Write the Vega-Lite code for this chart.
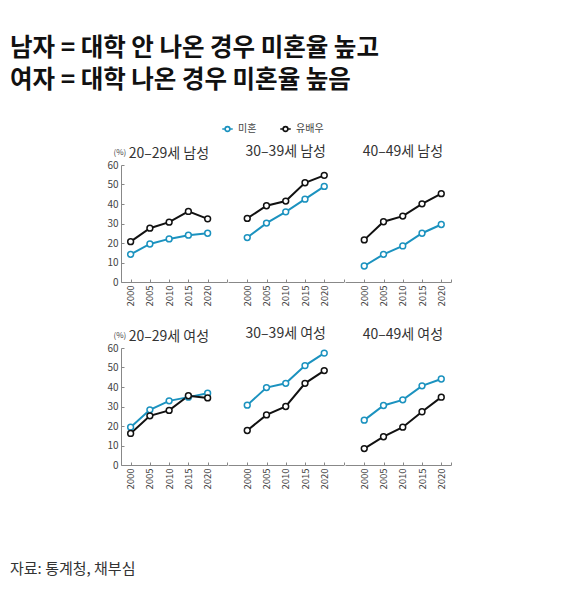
{
  "$schema": "https://vega.github.io/schema/vega-lite/v6.json",
  "background": "white",
  "padding": {"left": 10, "top": 35, "right": 10, "bottom": 10},
  "title": {
    "text": ["남자 = 대학 안 나온 경우 미혼율 높고", "여자 = 대학 나온 경우 미혼율 높음"],
    "anchor": "start",
    "frame": "group",
    "font": "Noto Sans CJK KR",
    "fontSize": 24.5,
    "fontWeight": "bold",
    "lineHeight": 32,
    "color": "#111111",
    "dx": -111,
    "offset": 29
  },
  "datasets": {
    "rates": [
      {"sex": "남성", "age": "20–29세", "year": 2000, "status": "미혼", "value": 14.2},
      {"sex": "남성", "age": "20–29세", "year": 2005, "status": "미혼", "value": 19.5},
      {"sex": "남성", "age": "20–29세", "year": 2010, "status": "미혼", "value": 22.1},
      {"sex": "남성", "age": "20–29세", "year": 2015, "status": "미혼", "value": 24.0},
      {"sex": "남성", "age": "20–29세", "year": 2020, "status": "미혼", "value": 25.0},
      {"sex": "남성", "age": "20–29세", "year": 2000, "status": "유배우", "value": 20.7},
      {"sex": "남성", "age": "20–29세", "year": 2005, "status": "유배우", "value": 27.6},
      {"sex": "남성", "age": "20–29세", "year": 2010, "status": "유배우", "value": 30.7},
      {"sex": "남성", "age": "20–29세", "year": 2015, "status": "유배우", "value": 36.2},
      {"sex": "남성", "age": "20–29세", "year": 2020, "status": "유배우", "value": 32.4},
      {"sex": "남성", "age": "30–39세", "year": 2000, "status": "미혼", "value": 22.8},
      {"sex": "남성", "age": "30–39세", "year": 2005, "status": "미혼", "value": 30.2},
      {"sex": "남성", "age": "30–39세", "year": 2010, "status": "미혼", "value": 36.0},
      {"sex": "남성", "age": "30–39세", "year": 2015, "status": "미혼", "value": 42.5},
      {"sex": "남성", "age": "30–39세", "year": 2020, "status": "미혼", "value": 49.0},
      {"sex": "남성", "age": "30–39세", "year": 2000, "status": "유배우", "value": 32.6},
      {"sex": "남성", "age": "30–39세", "year": 2005, "status": "유배우", "value": 39.1},
      {"sex": "남성", "age": "30–39세", "year": 2010, "status": "유배우", "value": 41.5},
      {"sex": "남성", "age": "30–39세", "year": 2015, "status": "유배우", "value": 50.9},
      {"sex": "남성", "age": "30–39세", "year": 2020, "status": "유배우", "value": 54.7},
      {"sex": "남성", "age": "40–49세", "year": 2000, "status": "미혼", "value": 8.2},
      {"sex": "남성", "age": "40–49세", "year": 2005, "status": "미혼", "value": 14.2},
      {"sex": "남성", "age": "40–49세", "year": 2010, "status": "미혼", "value": 18.5},
      {"sex": "남성", "age": "40–49세", "year": 2015, "status": "미혼", "value": 25.0},
      {"sex": "남성", "age": "40–49세", "year": 2020, "status": "미혼", "value": 29.5},
      {"sex": "남성", "age": "40–49세", "year": 2000, "status": "유배우", "value": 21.6},
      {"sex": "남성", "age": "40–49세", "year": 2005, "status": "유배우", "value": 30.9},
      {"sex": "남성", "age": "40–49세", "year": 2010, "status": "유배우", "value": 33.8},
      {"sex": "남성", "age": "40–49세", "year": 2015, "status": "유배우", "value": 40.1},
      {"sex": "남성", "age": "40–49세", "year": 2020, "status": "유배우", "value": 45.3},
      {"sex": "여성", "age": "20–29세", "year": 2000, "status": "미혼", "value": 19.4},
      {"sex": "여성", "age": "20–29세", "year": 2005, "status": "미혼", "value": 28.3},
      {"sex": "여성", "age": "20–29세", "year": 2010, "status": "미혼", "value": 32.9},
      {"sex": "여성", "age": "20–29세", "year": 2015, "status": "미혼", "value": 34.8},
      {"sex": "여성", "age": "20–29세", "year": 2020, "status": "미혼", "value": 36.8},
      {"sex": "여성", "age": "20–29세", "year": 2000, "status": "유배우", "value": 16.2},
      {"sex": "여성", "age": "20–29세", "year": 2005, "status": "유배우", "value": 25.2},
      {"sex": "여성", "age": "20–29세", "year": 2010, "status": "유배우", "value": 28.0},
      {"sex": "여성", "age": "20–29세", "year": 2015, "status": "유배우", "value": 35.5},
      {"sex": "여성", "age": "20–29세", "year": 2020, "status": "유배우", "value": 34.4},
      {"sex": "여성", "age": "30–39세", "year": 2000, "status": "미혼", "value": 30.7},
      {"sex": "여성", "age": "30–39세", "year": 2005, "status": "미혼", "value": 39.7},
      {"sex": "여성", "age": "30–39세", "year": 2010, "status": "미혼", "value": 41.9},
      {"sex": "여성", "age": "30–39세", "year": 2015, "status": "미혼", "value": 51.0},
      {"sex": "여성", "age": "30–39세", "year": 2020, "status": "미혼", "value": 57.4},
      {"sex": "여성", "age": "30–39세", "year": 2000, "status": "유배우", "value": 17.7},
      {"sex": "여성", "age": "30–39세", "year": 2005, "status": "유배우", "value": 25.7},
      {"sex": "여성", "age": "30–39세", "year": 2010, "status": "유배우", "value": 30.0},
      {"sex": "여성", "age": "30–39세", "year": 2015, "status": "유배우", "value": 41.9},
      {"sex": "여성", "age": "30–39세", "year": 2020, "status": "유배우", "value": 48.4},
      {"sex": "여성", "age": "40–49세", "year": 2000, "status": "미혼", "value": 23.0},
      {"sex": "여성", "age": "40–49세", "year": 2005, "status": "미혼", "value": 30.5},
      {"sex": "여성", "age": "40–49세", "year": 2010, "status": "미혼", "value": 33.4},
      {"sex": "여성", "age": "40–49세", "year": 2015, "status": "미혼", "value": 40.6},
      {"sex": "여성", "age": "40–49세", "year": 2020, "status": "미혼", "value": 44.1},
      {"sex": "여성", "age": "40–49세", "year": 2000, "status": "유배우", "value": 8.4},
      {"sex": "여성", "age": "40–49세", "year": 2005, "status": "유배우", "value": 14.5},
      {"sex": "여성", "age": "40–49세", "year": 2010, "status": "유배우", "value": 19.4},
      {"sex": "여성", "age": "40–49세", "year": 2015, "status": "유배우", "value": 27.3},
      {"sex": "여성", "age": "40–49세", "year": 2020, "status": "유배우", "value": 34.8}
    ]
  },
  "data": {"name": "rates"},
  "spacing": 20,
  "vconcat": [
    {
      "spacing": 0,
      "hconcat": [
        {
          "width": 105.9,
          "height": 117,
          "title": {"text": "20–29세 남성", "dx": -5, "dy": 19},
          "transform": [{"filter": "datum.sex === '남성' && datum.age === '20–29세'"}],
          "mark": {"type": "line", "strokeWidth": 2, "point": {"filled": false, "fill": "white", "size": 34, "strokeWidth": 1.5}},
          "encoding": {
            "x": {"field": "year", "type": "quantitative", "scale": {"domain": [1997.5, 2025], "nice": false, "zero": false},
              "axis": {"values": [2000, 2005, 2010, 2015, 2020, 2025], "labelExpr": "datum.value <= 2020 ? '' + datum.value : ''", "title": null}},
            "y": {"field": "value", "type": "quantitative", "scale": {"domain": [0, 60], "nice": false},
              "axis": {"values": [0, 10, 20, 30, 40, 50, 60], "title": "(%)", "titleAngle": 0, "titleAlign": "left", "titleBaseline": "bottom", "titleX": -8, "titleY": -9, "titleFontSize": 8, "titleFontWeight": "normal", "titleColor": "#444444"}},
            "color": {"field": "status", "type": "nominal", "scale": {"domain": ["미혼", "유배우"], "range": ["#1b92bf", "#111111"]}}
          }
        },
        {
          "width": 115.5,
          "height": 117,
          "title": {"text": "30–39세 남성"},
          "transform": [{"filter": "datum.sex === '남성' && datum.age === '30–39세'"}],
          "mark": {"type": "line", "strokeWidth": 2, "point": {"filled": false, "fill": "white", "size": 34, "strokeWidth": 1.5}},
          "encoding": {
            "x": {"field": "year", "type": "quantitative", "scale": {"domain": [1995, 2025], "nice": false, "zero": false},
              "axis": {"values": [2000, 2005, 2010, 2015, 2020, 2025], "labelExpr": "datum.value <= 2020 ? '' + datum.value : ''", "title": null}},
            "y": {"field": "value", "type": "quantitative", "scale": {"domain": [0, 60], "nice": false}, "axis": null},
            "color": {"field": "status", "type": "nominal", "scale": {"domain": ["미혼", "유배우"], "range": ["#1b92bf", "#111111"]}}
          }
        },
        {
          "width": 105.9,
          "height": 117,
          "title": {"text": "40–49세 남성", "dx": 5},
          "transform": [{"filter": "datum.sex === '남성' && datum.age === '40–49세'"}],
          "mark": {"type": "line", "strokeWidth": 2, "point": {"filled": false, "fill": "white", "size": 34, "strokeWidth": 1.5}},
          "encoding": {
            "x": {"field": "year", "type": "quantitative", "scale": {"domain": [1995, 2022.5], "nice": false, "zero": false},
              "axis": {"values": [2000, 2005, 2010, 2015, 2020, 2022.5], "labelExpr": "datum.value <= 2020 ? '' + datum.value : ''", "title": null}},
            "y": {"field": "value", "type": "quantitative", "scale": {"domain": [0, 60], "nice": false}, "axis": null},
            "color": {"field": "status", "type": "nominal", "scale": {"domain": ["미혼", "유배우"], "range": ["#1b92bf", "#111111"]}}
          }
        }
      ]
    },
    {
      "spacing": 0,
      "title": {"text": "자료: 통계청, 채부심", "orient": "bottom", "anchor": "start", "frame": "group", "fontSize": 15, "fontWeight": "normal", "color": "#333333", "dx": -111, "offset": 73},
      "hconcat": [
        {
          "width": 105.9,
          "height": 117,
          "title": {"text": "20–29세 여성", "dx": -5, "dy": 19},
          "transform": [{"filter": "datum.sex === '여성' && datum.age === '20–29세'"}],
          "mark": {"type": "line", "strokeWidth": 2, "point": {"filled": false, "fill": "white", "size": 34, "strokeWidth": 1.5}},
          "encoding": {
            "x": {"field": "year", "type": "quantitative", "scale": {"domain": [1997.5, 2025], "nice": false, "zero": false},
              "axis": {"values": [2000, 2005, 2010, 2015, 2020, 2025], "labelExpr": "datum.value <= 2020 ? '' + datum.value : ''", "title": null}},
            "y": {"field": "value", "type": "quantitative", "scale": {"domain": [0, 60], "nice": false},
              "axis": {"values": [0, 10, 20, 30, 40, 50, 60], "title": "(%)", "titleAngle": 0, "titleAlign": "left", "titleBaseline": "bottom", "titleX": -8, "titleY": -9, "titleFontSize": 8, "titleFontWeight": "normal", "titleColor": "#444444"}},
            "color": {"field": "status", "type": "nominal", "scale": {"domain": ["미혼", "유배우"], "range": ["#1b92bf", "#111111"]}}
          }
        },
        {
          "width": 115.5,
          "height": 117,
          "title": {"text": "30–39세 여성"},
          "transform": [{"filter": "datum.sex === '여성' && datum.age === '30–39세'"}],
          "mark": {"type": "line", "strokeWidth": 2, "point": {"filled": false, "fill": "white", "size": 34, "strokeWidth": 1.5}},
          "encoding": {
            "x": {"field": "year", "type": "quantitative", "scale": {"domain": [1995, 2025], "nice": false, "zero": false},
              "axis": {"values": [2000, 2005, 2010, 2015, 2020, 2025], "labelExpr": "datum.value <= 2020 ? '' + datum.value : ''", "title": null}},
            "y": {"field": "value", "type": "quantitative", "scale": {"domain": [0, 60], "nice": false}, "axis": null},
            "color": {"field": "status", "type": "nominal", "scale": {"domain": ["미혼", "유배우"], "range": ["#1b92bf", "#111111"]}}
          }
        },
        {
          "width": 105.9,
          "height": 117,
          "title": {"text": "40–49세 여성", "dx": 5},
          "transform": [{"filter": "datum.sex === '여성' && datum.age === '40–49세'"}],
          "mark": {"type": "line", "strokeWidth": 2, "point": {"filled": false, "fill": "white", "size": 34, "strokeWidth": 1.5}},
          "encoding": {
            "x": {"field": "year", "type": "quantitative", "scale": {"domain": [1995, 2022.5], "nice": false, "zero": false},
              "axis": {"values": [2000, 2005, 2010, 2015, 2020, 2022.5], "labelExpr": "datum.value <= 2020 ? '' + datum.value : ''", "title": null}},
            "y": {"field": "value", "type": "quantitative", "scale": {"domain": [0, 60], "nice": false}, "axis": null},
            "color": {"field": "status", "type": "nominal", "scale": {"domain": ["미혼", "유배우"], "range": ["#1b92bf", "#111111"]}}
          }
        }
      ]
    }
  ],
  "config": {
    "font": "Noto Sans CJK KR",
    "view": {"stroke": null},
    "title": {"fontSize": 14, "fontWeight": "normal", "color": "#333333", "offset": 6, "anchor": "middle", "frame": "group"},
    "axis": {
      "domainColor": "#888888",
      "tickColor": "#888888",
      "tickSize": -3,
      "grid": false,
      "labelColor": "#444444",
      "labelFontSize": 10,
      "labelPadding": 6
    },
    "axisX": {"labelAngle": -90, "labelFontSize": 9.5, "labelPadding": 6},
    "legend": {
      "orient": "none",
      "legendX": 100,
      "legendY": -43,
      "direction": "horizontal",
      "title": null,
      "symbolType": "M-1,0H-0.45M0.45,0H1M-0.45,0A0.45,0.45 0 1,0 0.45,0A0.45,0.45 0 1,0 -0.45,0",
      "symbolSize": 110,
      "symbolStrokeWidth": 1.6,
      "symbolFillColor": "white",
      "labelFontSize": 10,
      "labelColor": "#444444",
      "columnPadding": 20
    }
  }
}
